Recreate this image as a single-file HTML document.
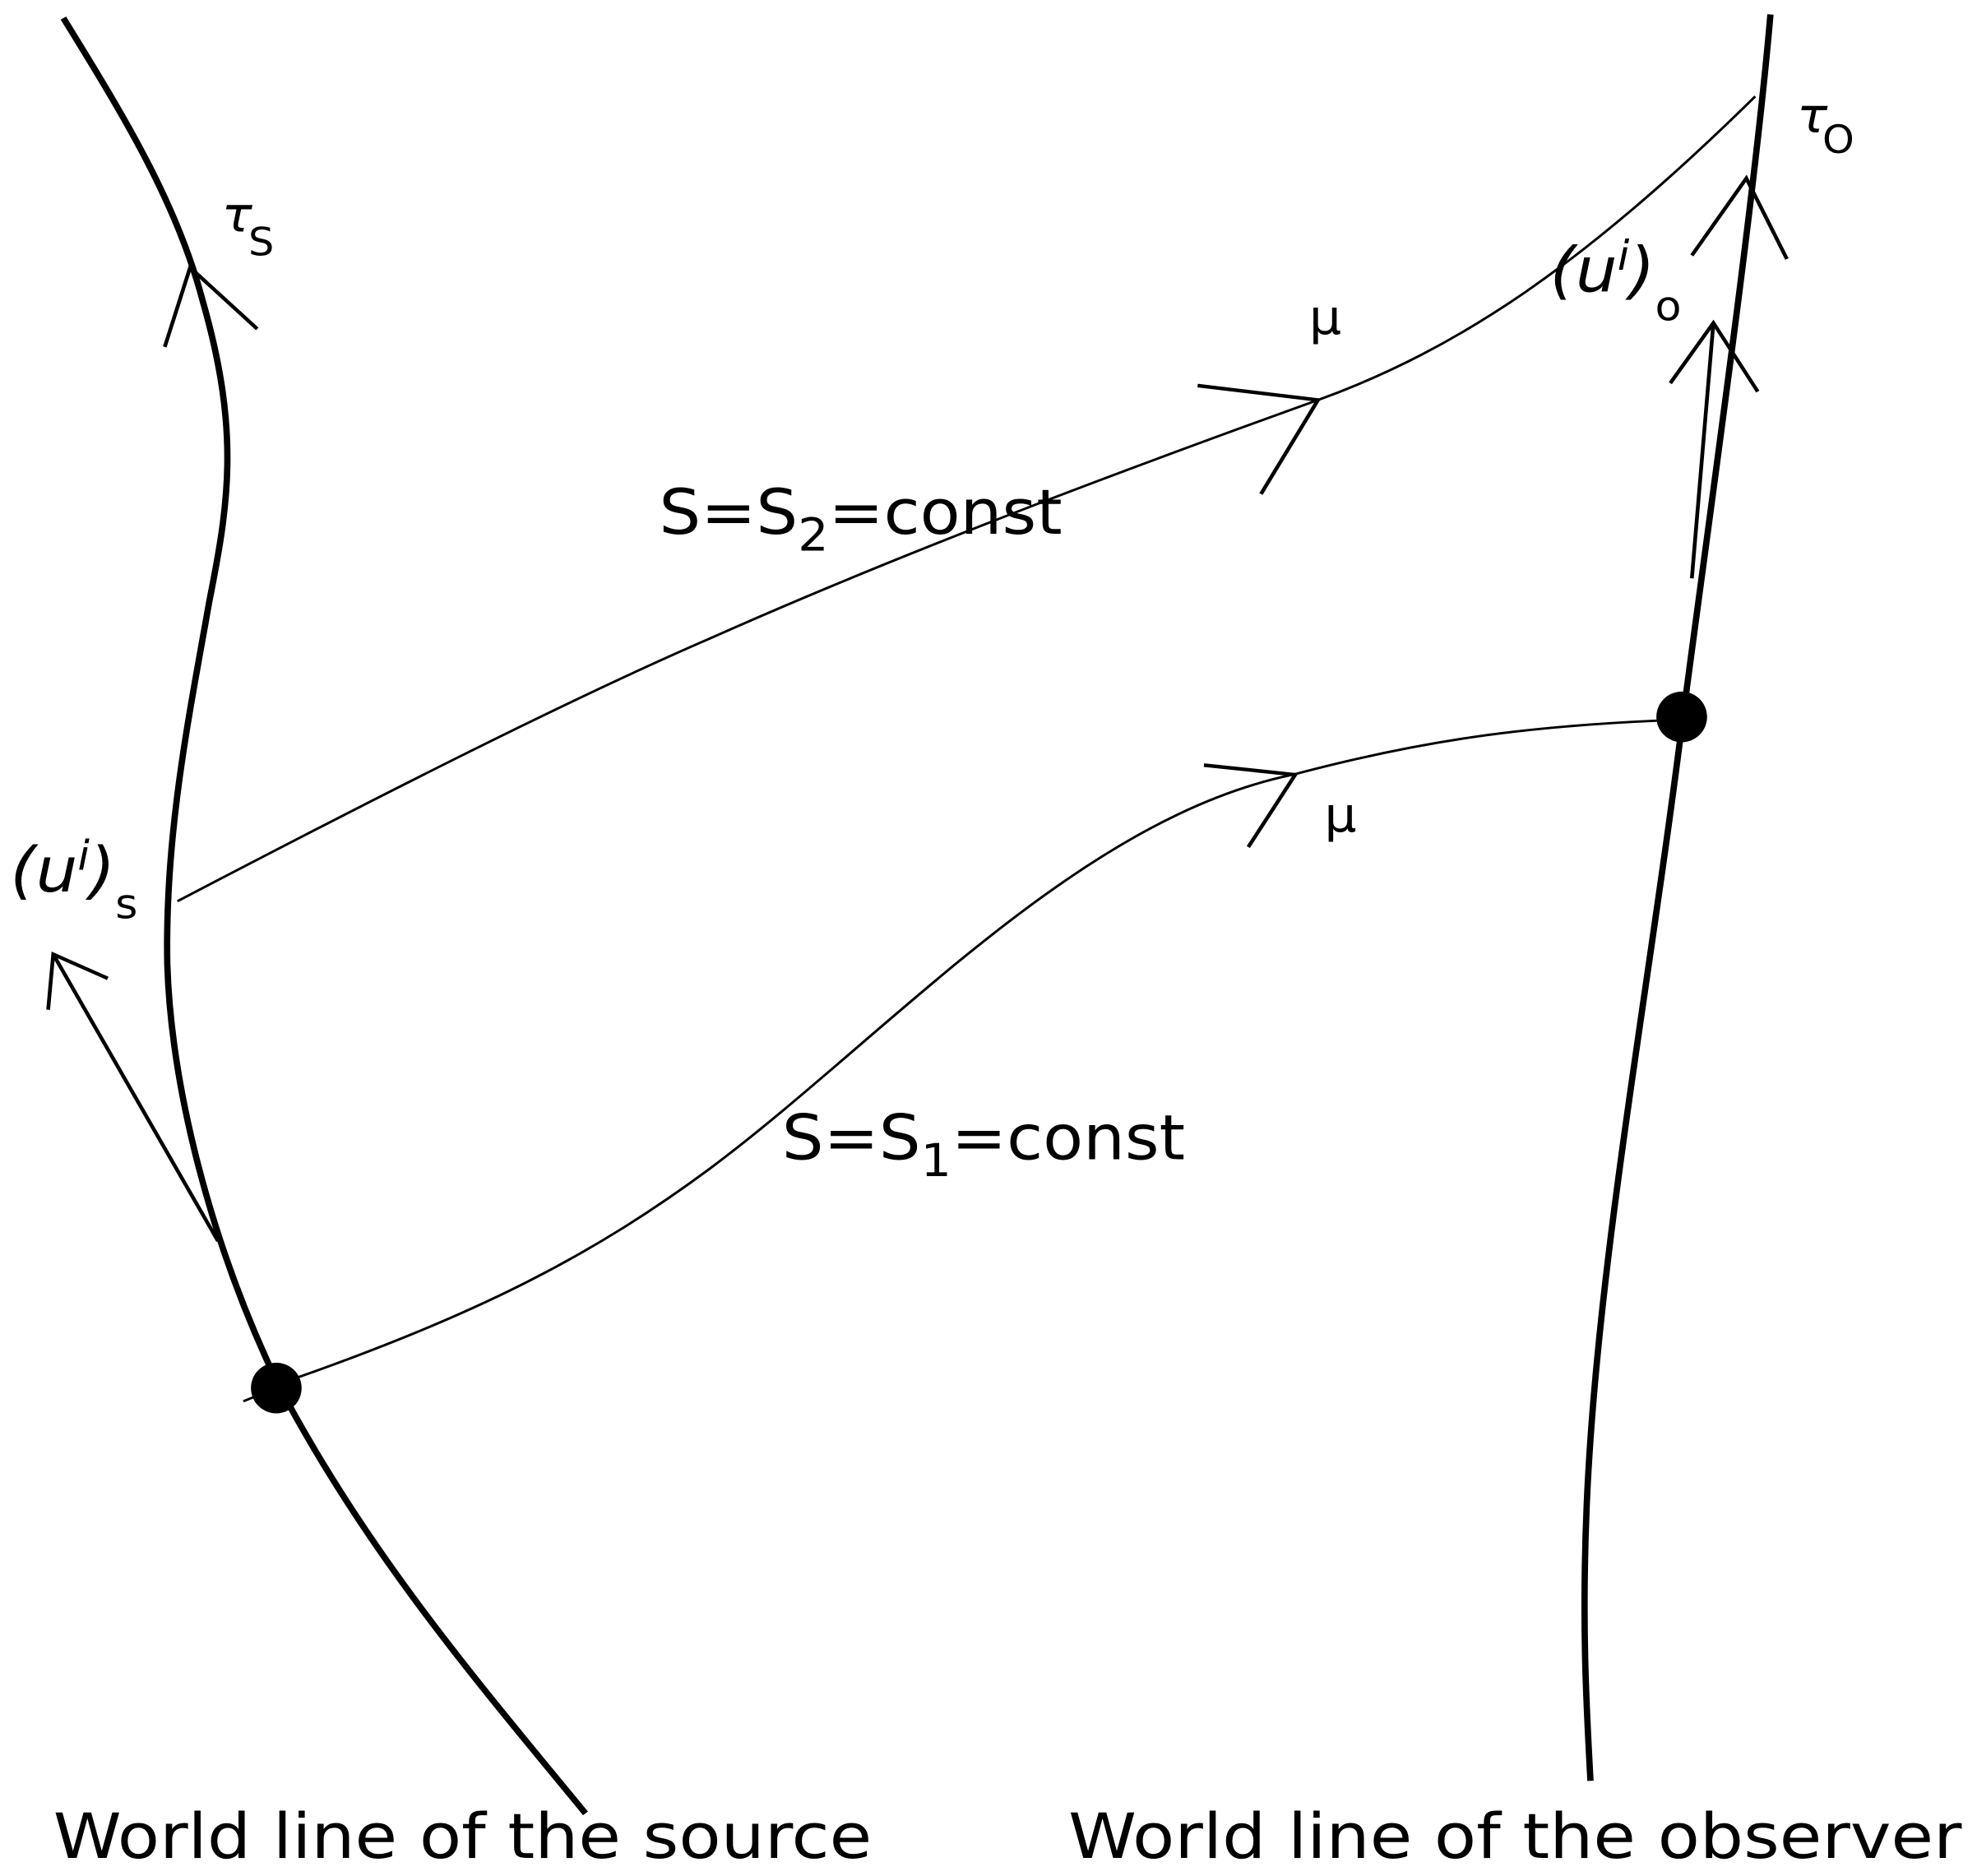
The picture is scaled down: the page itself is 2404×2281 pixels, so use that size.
<!DOCTYPE html>
<html><head><style>html,body{margin:0;padding:0;background:#fff}svg{display:block}</style></head><body>
<svg width="2404" height="2281" viewBox="0 0 1560 1557" preserveAspectRatio="none" xmlns="http://www.w3.org/2000/svg" font-family="'DejaVu Sans','Liberation Sans',sans-serif">
<g fill="none" stroke="#000" stroke-linecap="butt">
<path d="M50,15 C100,100 140,170 160,250 C190,360 180,420 165,500 C150,590 130,690 132,800 C135,900 165,1030 220,1150 C290,1290 380,1400 462,1505" stroke-width="5"/>
<path d="M1397,12 C1385,160 1350,420 1328,595 C1300,830 1260,1050 1252,1250 C1248,1350 1252,1420 1255,1478" stroke-width="5"/>
<path d="M140,748 C300,660 450,580 560,530 C720,455 900,385 1040,332 C1150,290 1250,220 1385,80" stroke-width="2"/>
<path d="M230,1145 C380,1090 470,1040 560,970 C700,860 850,680 1020,643 C1120,615 1200,603 1310,598" stroke-width="2"/>
<path d="M945,320 L1040,332 L995,410" stroke-width="3"/>
<path d="M950,635 L1022,643 L985,703" stroke-width="3"/>
<path d="M130,288 L150,222 L203,273" stroke-width="3"/>
<path d="M1335,212 L1378,148 L1410,215" stroke-width="3"/>
<path d="M1335,480 L1352,268" stroke-width="3"/>
<path d="M1318,318 L1352,268 L1387,325" stroke-width="3"/>
<path d="M172,1030 L42,792" stroke-width="3"/>
<path d="M38,838 L42,792 L85,812" stroke-width="3"/>
<path d="M192,1163 L218,1152" stroke-width="2"/>
</g>
<ellipse cx="218" cy="1152" rx="20" ry="21" fill="#000"/>
<ellipse cx="1327" cy="595" rx="20" ry="21" fill="#000"/>
<g fill="#000">
<text x="175" y="192" font-size="40" font-style="italic">τ</text><text x="196" y="212" font-size="32">S</text>
<text x="1418" y="110" font-size="40" font-style="italic">τ</text><text x="1438" y="127" font-size="32">O</text>
<text x="1033" y="277" font-size="40">μ</text>
<text x="1045" y="690" font-size="40">μ</text>
<text x="520" y="443" font-size="52">S=S<tspan font-size="38" dy="14">2</tspan><tspan dy="-14">=const</tspan></text>
<text x="617" y="962" font-size="52">S=S<tspan font-size="38" dy="14">1</tspan><tspan dy="-14">=const</tspan></text>
<text x="8" y="740" font-size="52" font-style="italic">(u<tspan font-size="34" dy="-18">i</tspan><tspan dy="18">)</tspan><tspan font-size="34" font-style="normal" dy="22">s</tspan></text>
<text x="1223" y="242" font-size="52" font-style="italic">(u<tspan font-size="34" dy="-18">i</tspan><tspan dy="18">)</tspan><tspan font-size="34" font-style="normal" dy="24">o</tspan></text>
<text x="42" y="1542" font-size="52" textLength="646" lengthAdjust="spacingAndGlyphs">World line of the source</text>
<text x="843" y="1542" font-size="52" textLength="705" lengthAdjust="spacingAndGlyphs">World line of the observer</text>
</g>
</svg>
</body></html>
